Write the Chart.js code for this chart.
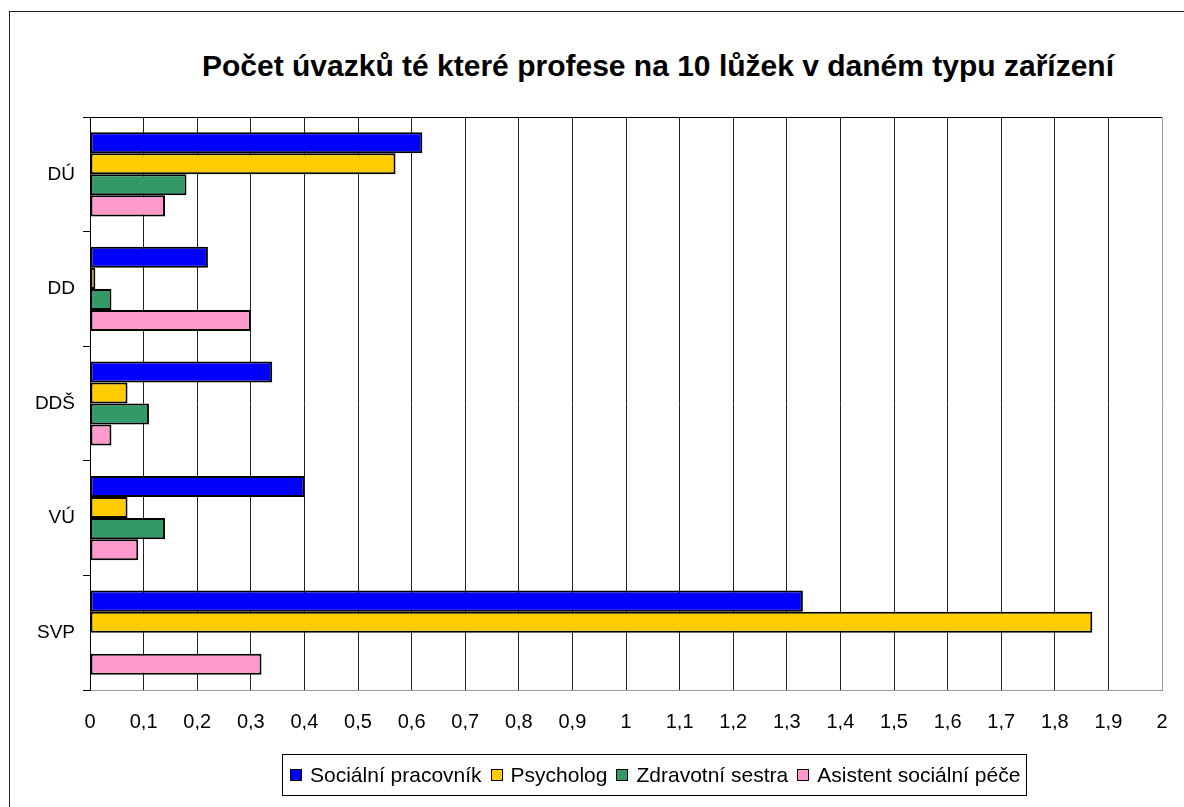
<!DOCTYPE html>
<html>
<head>
<meta charset="utf-8">
<script src="https://cdn.jsdelivr.net/npm/chart.js@4/dist/chart.umd.min.js"></script>
<style>
  html, body { margin: 0; padding: 0; background: #fff; overflow: hidden; }
  body { width: 1184px; height: 807px; position: relative; font-family: 'Liberation Sans', Arial, sans-serif; }
  #frame { position: absolute; left: 9px; top: 11px; width: 1300px; height: 900px; border: 1px solid #222; }
  #title { position: absolute; left: 158px; width: 1000px; top: 47px; text-align: center;
           font-weight: bold; font-size: 30px; line-height: 38px; color: #000; }
  #chart { position: absolute; left: 0; top: 0; }
  #legend { position: absolute; left: 282px; top: 754px; height: 40px; border: 1px solid #000;
            display: flex; align-items: center; padding: 0 6px 0 7px; font-size: 21px; color: #000; white-space: nowrap; }
  #legend .item { display: flex; align-items: center; margin-right: 9px; }
  #legend .item:last-child { margin-right: 0; }
  #legend .box { width: 10px; height: 10px; border: 1.5px solid #000; margin-right: 8px; }
</style>
</head>
<body>
<div id="frame"></div>
<div id="title">Počet úvazků té které profese na 10 lůžek v daném typu zařízení</div>
<canvas id="chart" width="1184" height="807"></canvas>
<div id="legend"></div>
<script>
// data
const categories = ['DÚ', 'DD', 'DDŠ', 'VÚ', 'SVP'];
const seriesNames = ['Sociální pracovník', 'Psycholog', 'Zdravotní sestra', 'Asistent sociální péče'];
const socialniPracovnik = [0.62, 0.22, 0.34, 0.40, 1.33];
const psycholog = [0.57, 0.01, 0.07, 0.07, 1.87];
const zdravotniSestra = [0.18, 0.04, 0.11, 0.14, 0];
const asistentPece = [0.14, 0.30, 0.04, 0.09, 0.32];
const xMin = 0, xMax = 2, xStep = 0.1;

const colors = ['#0000ff', '#ffcc00', '#339966', '#ff99cc'];
const values = [socialniPracovnik, psycholog, zdravotniSestra, asistentPece];

const datasets = seriesNames.map((name, i) => ({
  label: name,
  data: values[i],
  backgroundColor: colors[i],
  borderColor: '#000',
  borderWidth: 2,
  borderSkipped: false,
  categoryPercentage: 0.735,
  barPercentage: 1
}));

// html legend
const legend = document.getElementById('legend');
seriesNames.forEach((name, i) => {
  const item = document.createElement('div');
  item.className = 'item';
  item.innerHTML = '<span class="box" style="background:' + colors[i] + '"></span><span></span>';
  item.lastChild.textContent = name;
  legend.appendChild(item);
});

// czech decimal comma
const fmt = v => String(Math.round(v * 10) / 10).split('.').join(',');

new Chart(document.getElementById('chart'), {
  type: 'bar',
  data: { labels: categories, datasets: datasets },
  options: {
    locale: 'cs-CZ',
    indexAxis: 'y',
    responsive: false,
    animation: false,
    devicePixelRatio: 1,
    layout: { padding: { top: 117, left: 0, right: 22, bottom: 77 } },
    plugins: { legend: { display: false }, title: { display: false }, tooltip: { enabled: false } },
    scales: {
      x: {
        type: 'linear',
        min: xMin, max: xMax,
        afterFit: s => { s.height = 40; },
        ticks: {
          stepSize: xStep, autoSkip: false, maxRotation: 0, padding: 12,
          color: '#000', font: { family: "'Liberation Sans', Arial", size: 20, lineHeight: 2 },
          callback: function (v) { return fmt(v); }
        },
        grid: {
          drawTicks: false,
          color: c => (c.tick && Math.abs(c.tick.value - xMax) < 1e-6) ? '#999' : '#222',
          lineWidth: 1
        },
        border: { color: '#999', width: 1 }
      },
      y: {
        afterFit: s => { s.width = 90; },
        ticks: { padding: 8, color: '#000', font: { family: "'Liberation Sans', Arial", size: 19 } },
        grid: {
          offset: true,
          tickLength: 7,
          tickColor: '#000',
          color: c => c.index === 0 ? '#000' : 'rgba(0,0,0,0)'
        },
        border: { color: '#000', width: 1 }
      }
    }
  }
});
</script>
</body>
</html>
